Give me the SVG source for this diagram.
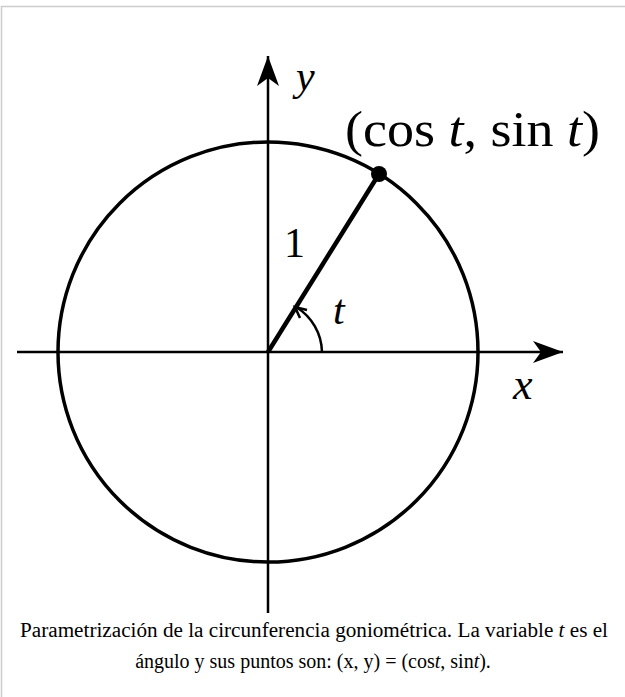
<svg xmlns="http://www.w3.org/2000/svg" width="625" height="697" viewBox="0 0 625 697">
<style>
.frame{fill:none;stroke:#cccccc;stroke-width:1.5}
.ax{stroke:#000;stroke-width:2.5;fill:none}
.m{font-family:"Liberation Serif","DejaVu Serif",serif;fill:#000}
.i{font-style:italic}
.cap{font-family:"Liberation Serif","Times New Roman",serif;font-size:20px;fill:#000;text-anchor:middle}
</style>
<defs>
<marker id="big" markerWidth="32" markerHeight="24" refX="30" refY="11" orient="auto" markerUnits="userSpaceOnUse">
<path d="M30,11 L0,0 L8,11 L0,22 Z" fill="#000"/>
</marker>
</defs>
<rect width="625" height="697" fill="#fff"/>
<path class="frame" d="M1.5,697 V6.5 H625"/>
<g id="connectors">
<line class="ax" x1="17" y1="352" x2="563" y2="352" marker-end="url(#big)"/>
<line class="ax" x1="268" y1="613" x2="268" y2="56" marker-end="url(#big)"/>
</g>
<g id="circle">
<circle cx="268" cy="352" r="210" fill="none" stroke="#000" stroke-width="3.5"/>
</g>
<g id="radius">
<line x1="268" y1="352" x2="379" y2="174" stroke="#000" stroke-width="4.5"/>
<circle cx="379" cy="174" r="8" fill="#000"/>
</g>
<g id="angle">
<path d="M322,352 A54,54 0 0 0 296,307" fill="none" stroke="#000" stroke-width="2.5"/>
<path d="M300,318 L295,307 L307,310" fill="none" stroke="#000" stroke-width="2.5" stroke-linejoin="miter"/>
</g>
<g id="labels">
<text class="m i" x="296" y="90" font-size="42">y</text>
<text class="m" x="345" y="146" font-size="50" textLength="255" lengthAdjust="spacingAndGlyphs">(cos <tspan class="i">t</tspan>, sin <tspan class="i">t</tspan>)</text>
<text class="m" x="284" y="257" font-size="42">1</text>
<text class="m i" x="333" y="324" font-size="42">t</text>
<text class="m i" x="513" y="399" font-size="44">x</text>
</g>
<g id="caption">
<text class="cap" x="314" y="637" textLength="588" lengthAdjust="spacingAndGlyphs">Parametrización de la circunferencia goniométrica. La variable <tspan font-style="italic">t</tspan> es el</text>
<text class="cap" x="313" y="668" font-size="19">ángulo y sus puntos son: (x, y) = (cos<tspan font-style="italic">t</tspan>, sin<tspan font-style="italic">t</tspan>).</text>
</g>
</svg>
